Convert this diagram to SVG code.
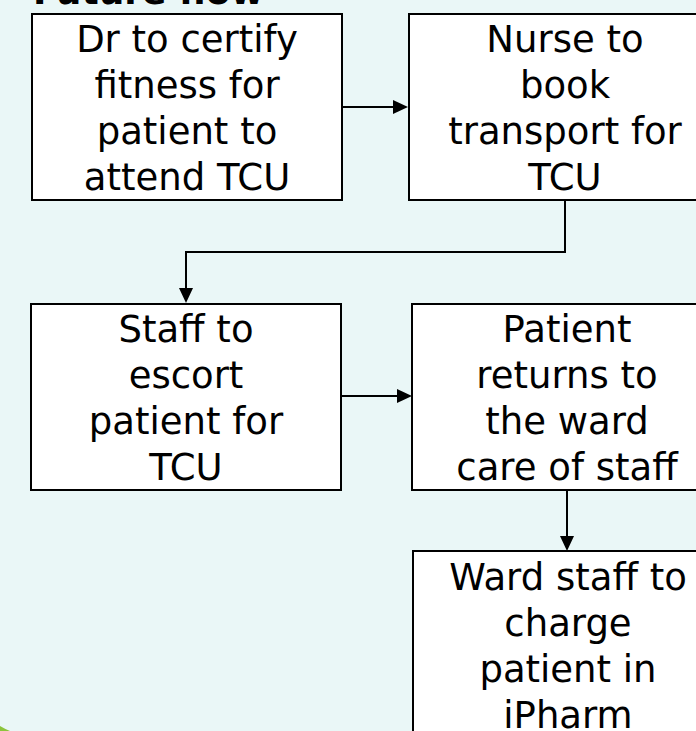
<svg xmlns="http://www.w3.org/2000/svg" width="696" height="731" viewBox="0 0 696 731">
  <defs>
    <style>
      .box { fill: #ffffff; stroke: #000000; stroke-width: 2; }
      .lbl { font-family: "DejaVu Sans", Verdana, sans-serif; font-size: 37px; fill: #000000; text-anchor: middle; }
      .title { font-family: "DejaVu Sans", Verdana, sans-serif; font-size: 36px; font-weight: bold; fill: #000000; }
      .conn { fill: none; stroke: #000000; stroke-width: 2; marker-end: url(#arrow); }
    </style>
    <marker id="arrow" markerUnits="userSpaceOnUse" markerWidth="15" markerHeight="14" refX="13" refY="7" orient="auto">
      <path d="M0,0 L15,7 L0,14 Z" fill="#000000"/>
    </marker>
  </defs>
  <rect x="0" y="0" width="696" height="731" fill="#eaf7f7"/>
  <path d="M0,726 Q5,729 10,731 L0,731 Z" fill="#8cc43c"/>
  <text class="title" x="33" y="4">Future flow</text>

  <g id="connectors">
    <path class="conn" d="M342,107 H406"/>
    <path class="conn" d="M565,200 V252 H186 V301"/>
    <path class="conn" d="M341,396 H410"/>
    <path class="conn" d="M567,490 V549"/>
  </g>

  <g id="node-dr">
    <rect class="box" x="32" y="14" width="310" height="186"/>
    <text class="lbl" x="187" y="52">Dr to certify</text>
    <text class="lbl" x="187" y="98">fitness for</text>
    <text class="lbl" x="187" y="144">patient to</text>
    <text class="lbl" x="187" y="190">attend TCU</text>
  </g>
  <g id="node-nurse">
    <rect class="box" x="409" y="14" width="312" height="186"/>
    <text class="lbl" x="565" y="52">Nurse to</text>
    <text class="lbl" x="565" y="98">book</text>
    <text class="lbl" x="565" y="144">transport for</text>
    <text class="lbl" x="565" y="190">TCU</text>
  </g>
  <g id="node-staff">
    <rect class="box" x="31" y="304" width="310" height="186"/>
    <text class="lbl" x="186" y="342">Staff to</text>
    <text class="lbl" x="186" y="388">escort</text>
    <text class="lbl" x="186" y="434">patient for</text>
    <text class="lbl" x="186" y="480">TCU</text>
  </g>
  <g id="node-patient">
    <rect class="box" x="412" y="304" width="310" height="186"/>
    <text class="lbl" x="567" y="342">Patient</text>
    <text class="lbl" x="567" y="388">returns to</text>
    <text class="lbl" x="567" y="434">the ward</text>
    <text class="lbl" x="567" y="480">care of staff</text>
  </g>
  <g id="node-ward">
    <rect class="box" x="413" y="551" width="310" height="200"/>
    <text class="lbl" x="568" y="590">Ward staff to</text>
    <text class="lbl" x="568" y="636">charge</text>
    <text class="lbl" x="568" y="682">patient in</text>
    <text class="lbl" x="568" y="728">iPharm</text>
  </g>
</svg>
